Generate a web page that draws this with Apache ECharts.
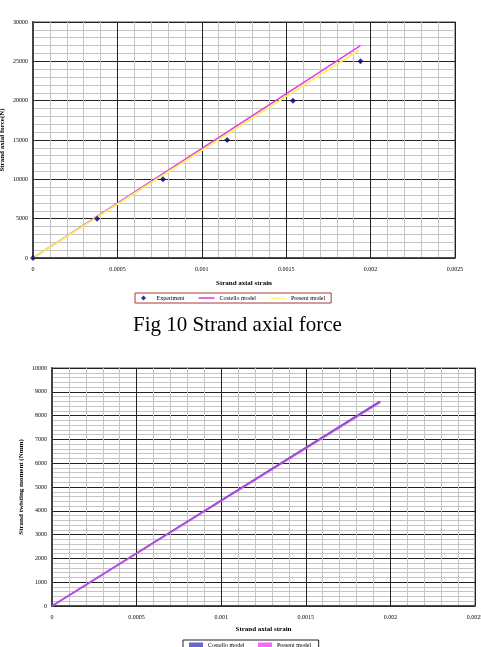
<!DOCTYPE html>
<html>
<head>
<meta charset="utf-8">
<script src="https://cdn.jsdelivr.net/npm/echarts@6/dist/echarts.min.js"></script>
<style>
html,body{margin:0;padding:0;background:#fff;}
#c{width:481px;height:647px;}
</style>
</head>
<body>
<div id="c"></div>
<script>
// Fig 10: strand axial force
var expStrain = [0, 0.00038, 0.00077, 0.00115, 0.00154, 0.00194];
var expForce = [0, 5000, 10000, 15000, 20000, 25000];
var costelloForceStrain = [0, 0.00194];
var costelloForce = [0, 27000];
var presentForceStrain = [0, 0.00193];
var presentForce = [0, 26400];
// Fig 11: strand twisting moment
var momentStrain = [0, 0.00194];
var costelloMoment = [0, 8600];
var presentMoment = [0, 8540];

function pairs(xs, ys){ return xs.map(function(x,i){ return [x, ys[i]]; }); }

var serif = 'Liberation Serif';
var chart = echarts.init(document.getElementById('c'), null, {renderer:'canvas'});

function xAxisCfg(gridIndex, nameGap){
  return {
    type:'value', gridIndex:gridIndex, min:0, max:0.0025, interval:0.0005,
    name:'Strand axial strain', nameLocation:'middle', nameGap:nameGap,
    nameTextStyle:{fontFamily:serif, fontSize:7, fontWeight:'bold', color:'#000'},
    axisLine:{show:true, onZero:false, lineStyle:{color:'#333', width:1.5}},
    axisTick:{show:false},
    axisLabel:{fontFamily:serif, fontSize:6, color:'#000', margin:8,
      formatter:function(v){ return String(+v.toFixed(4)); }},
    splitLine:{show:true, lineStyle:{color:'#222', width:1}},
    minorTick:{show:false, splitNumber:5},
    minorSplitLine:{show:true, lineStyle:{color:'#c4c4c4', width:1}}
  };
}
function yAxisCfg(gridIndex, max, interval, name, nameGap){
  return {
    type:'value', gridIndex:gridIndex, min:0, max:max, interval:interval,
    name:name, nameLocation:'middle', nameGap:nameGap, nameRotate:90, nameMoveOverlap:false,
    nameTextStyle:{fontFamily:serif, fontSize:7, fontWeight:'bold', color:'#000'},
    axisLine:{show:true, onZero:false, lineStyle:{color:'#444', width:2}},
    axisTick:{show:false},
    axisLabel:{fontFamily:serif, fontSize:6, color:'#000', margin:5,
      formatter:function(v){ return String(v); }},
    splitLine:{show:true, lineStyle:{color:'#222', width:1}},
    minorTick:{show:false, splitNumber:5},
    minorSplitLine:{show:true, lineStyle:{color:'#c4c4c4', width:1}}
  };
}

var lineIcon = 'path://M0,0 L20,0 L20,2 L0,2 Z';
var diamondIcon = 'path://M5,0 L10,5 L5,10 L0,5 Z';

chart.setOption({
  animation:false,
  backgroundColor:'#fff',
  title:{
    text:'Fig 10 Strand axial force', left:128, top:310,
    textStyle:{fontFamily:serif, fontSize:21, fontWeight:'normal', color:'#000'}
  },
  grid:[
    {left:33, top:22, width:422, height:236, show:true, borderColor:'#888', borderWidth:1.5,
     backgroundColor:'#fff', containLabel:false, outerBoundsMode:'none'},
    {left:52, top:368, width:423, height:238, show:true, borderColor:'#888', borderWidth:1.5,
     backgroundColor:'#fff', containLabel:false, outerBoundsMode:'none'}
  ],
  xAxis:[ xAxisCfg(0, 22), xAxisCfg(1, 20) ],
  yAxis:[
    yAxisCfg(0, 30000, 5000, 'Strand axial force(N)', 27),
    yAxisCfg(1, 10000, 1000, 'Strand twisting moment (Nmm)', 27)
  ],
  legend:[
    {
      left:135, top:293, orient:'horizontal',
      backgroundColor:'#fff', borderColor:'#a03838', borderWidth:1,
      padding:[2,6], itemGap:14, itemWidth:16, itemHeight:5, symbolKeepAspect:true,
      textStyle:{fontFamily:serif, fontSize:6, color:'#000'},
      data:[
        {name:'Experiment', icon:diamondIcon, itemStyle:{color:'#000080'}},
        {name:'Costello model', icon:lineIcon, itemStyle:{color:'#e040e0'}},
        {name:'Present model', icon:lineIcon, itemStyle:{color:'#ffff66'}}
      ]
    },
    {
      left:183, top:640, orient:'horizontal',
      backgroundColor:'#fff', borderColor:'#222', borderWidth:1,
      padding:[2,6], itemGap:12, itemWidth:14, itemHeight:5,
      textStyle:{fontFamily:serif, fontSize:6, color:'#000'},
      data:[
        {name:'Costello model ', icon:'rect', itemStyle:{color:'#6666cc'}},
        {name:'Present model ', icon:'rect', itemStyle:{color:'#ff66ff'}}
      ]
    }
  ],
  series:[
    {name:'Costello model', type:'line', xAxisIndex:0, yAxisIndex:0,
     data:pairs(costelloForceStrain, costelloForce), showSymbol:false, symbol:'none',
     lineStyle:{color:'#e040e0', width:1.5}, itemStyle:{color:'#e040e0'}, z:3},
    {name:'Present model', type:'line', xAxisIndex:0, yAxisIndex:0,
     data:pairs(presentForceStrain, presentForce), showSymbol:false, symbol:'none',
     lineStyle:{color:'#f8f060', width:1.8}, itemStyle:{color:'#f8f060'}, z:4},
    {name:'Experiment', type:'scatter', xAxisIndex:0, yAxisIndex:0,
     data:pairs(expStrain, expForce), symbol:'diamond', symbolSize:6,
     itemStyle:{color:'#000080'}, z:5},
    {name:'Costello model ', type:'line', xAxisIndex:1, yAxisIndex:1,
     data:pairs(momentStrain, costelloMoment), showSymbol:false, symbol:'none',
     lineStyle:{color:'#7a4ad0', width:2}, itemStyle:{color:'#6666cc'}, z:3},
    {name:'Present model ', type:'line', xAxisIndex:1, yAxisIndex:1,
     data:pairs(momentStrain, presentMoment), showSymbol:false, symbol:'none',
     lineStyle:{color:'#e050e8', width:1.2, opacity:0.8}, itemStyle:{color:'#ff66ff'}, z:4}
  ]
});
</script>
</body>
</html>
